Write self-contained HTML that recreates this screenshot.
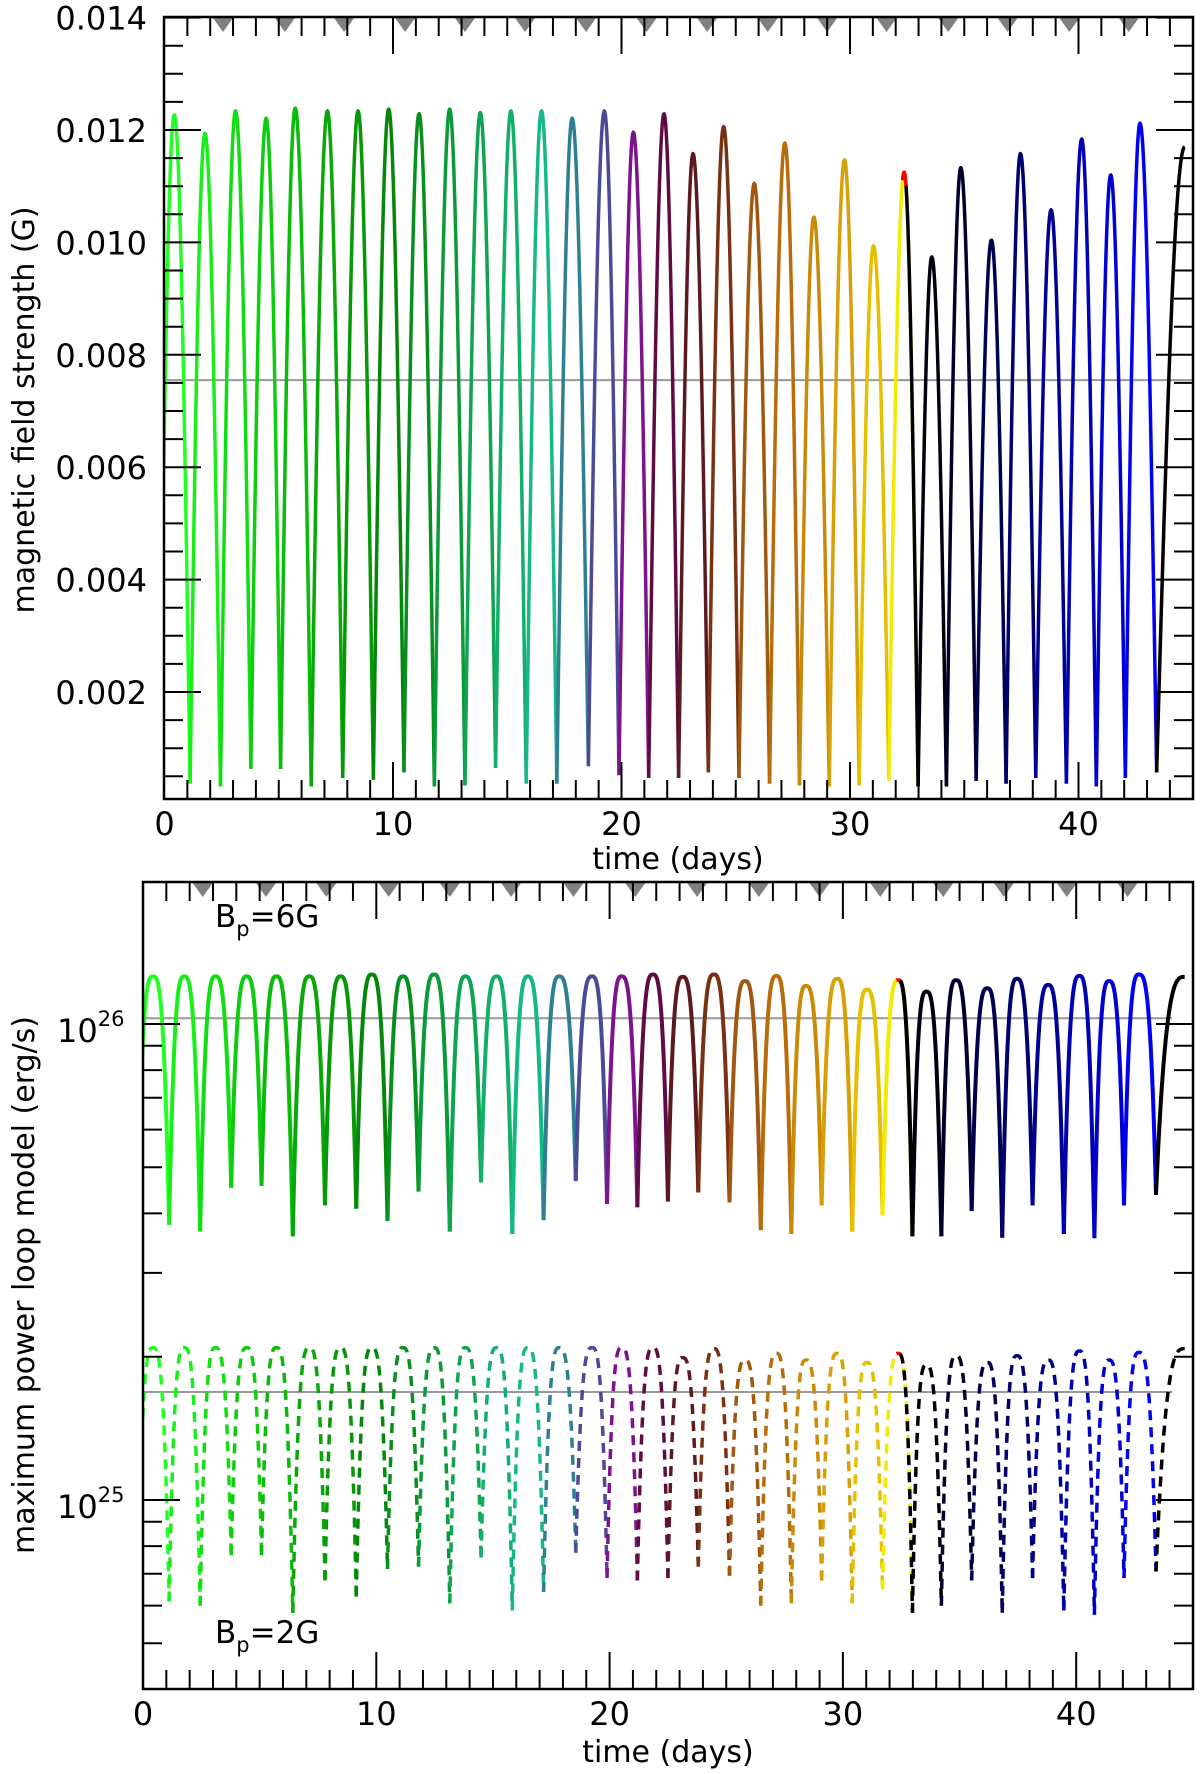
<!DOCTYPE html>
<html><head><meta charset="utf-8"><style>
html,body{margin:0;padding:0;background:#fff;}
svg{display:block;font-family:"DejaVu Sans","Liberation Sans",sans-serif;}
</style></head><body>
<svg id="chart" width="1200" height="1774" viewBox="0 0 1200 1774" xmlns="http://www.w3.org/2000/svg">
<defs>
<clipPath id="clipTop"><rect x="164" y="17" width="1029" height="782"/></clipPath>
<clipPath id="clipBot"><rect x="143" y="882" width="1050" height="807"/></clipPath>
</defs>
<g id="top"></g>
<g id="bot"></g>
<text x="34" y="410" font-size="30" text-anchor="middle" transform="rotate(-90 34 410)">magnetic field strength (G)</text>
<text x="678" y="869" font-size="30" text-anchor="middle">time (days)</text>
<text x="34" y="1285" font-size="30" text-anchor="middle" transform="rotate(-90 34 1285)">maximum power loop model (erg/s)</text>
<text x="668" y="1762" font-size="30" text-anchor="middle">time (days)</text>
<text x="215" y="927" font-size="31">B<tspan font-size="21" dy="9">p</tspan><tspan dy="-9">=6G</tspan></text>
<text x="215" y="1643" font-size="31">B<tspan font-size="21" dy="9">p</tspan><tspan dy="-9">=2G</tspan></text>
</svg>
<script>
// ---- data ----
const peakT = [0.43,1.77,3.11,4.45,5.72,7.13,8.47,9.81,11.14,12.48,13.82,15.16,16.5,17.84,19.25,20.52,21.86,23.13,24.47,25.81,27.15,28.42,29.76,31.03,32.37,33.58,34.85,36.19,37.46,38.8,40.14,41.41,42.69,44.65];
const peakB = [0.01227,0.01194,0.01234,0.01221,0.01239,0.01234,0.01234,0.01237,0.01229,0.01237,0.01231,0.01234,0.01234,0.01221,0.01234,0.01196,0.01229,0.01158,0.01206,0.01105,0.01177,0.01045,0.01147,0.00994,0.01125,0.00974,0.01133,0.01004,0.01158,0.01058,0.01184,0.01120,0.01212,0.0117];
const troughT = [-0.25,1.12,2.45,3.78,5.08,6.42,7.80,9.14,10.48,11.81,13.15,14.49,15.83,17.17,18.55,19.89,21.19,22.50,23.80,25.14,26.48,27.79,29.09,30.40,31.70,32.98,34.22,35.52,36.83,38.13,39.47,40.78,42.05,43.42];
const troughB = [0.0003,0.00037,0.00032,0.00063,0.00063,0.00032,0.00047,0.00044,0.00057,0.00032,0.00034,0.00065,0.00037,0.00037,0.00068,0.00052,0.00047,0.00047,0.00057,0.00047,0.00037,0.00034,0.00032,0.00034,0.00042,0.00032,0.00032,0.00042,0.00037,0.00047,0.00037,0.00032,0.00047,0.00057];
// log10 luminosity (erg/s), Bp = 6G
const peakL6 = [26.10,26.10,26.10,26.10,26.10,26.10,26.10,26.104,26.10,26.104,26.10,26.10,26.10,26.10,26.10,26.10,26.104,26.099,26.104,26.090,26.101,26.080,26.095,26.072,26.092,26.068,26.092,26.075,26.095,26.082,26.101,26.090,26.104,26.099];
const troughL6 = [25.58,25.578,25.564,25.656,25.660,25.554,25.619,25.612,25.586,25.648,25.564,25.667,25.559,25.588,25.670,25.622,25.615,25.627,25.646,25.625,25.567,25.559,25.619,25.564,25.598,25.554,25.554,25.607,25.551,25.619,25.559,25.550,25.619,25.641];
// log10 luminosity (erg/s), Bp = 2G
const peakL2 = [25.32,25.32,25.32,25.32,25.32,25.32,25.32,25.32,25.32,25.32,25.32,25.32,25.32,25.32,25.32,25.32,25.32,25.299,25.318,25.294,25.308,25.294,25.308,25.289,25.308,25.284,25.303,25.289,25.303,25.294,25.313,25.294,25.310,25.318];
const troughL2 = [24.78,24.787,24.778,24.884,24.884,24.763,24.831,24.797,24.855,24.860,24.783,24.879,24.768,24.807,24.889,24.836,24.831,24.836,24.860,24.841,24.778,24.783,24.831,24.783,24.812,24.763,24.778,24.831,24.763,24.836,24.768,24.759,24.836,24.850];
const segColors = ['#22ff22','#1aee1a','#12dd12','#0ecc0e','#0abb0a','#08a808','#069806','#05880a','#07901e','#0a9a38','#0ea450','#12ae6c','#16b888','#2f7f92','#4b4a96','#7d148e','#5e0c42','#5a1a20','#7a3012','#a05810','#b86c0a','#c88a08','#d8a008','#e6c000','#f2ea00','#000010','#00002c','#000050','#000070','#000092','#0000b4','#0000d2','#0000f2','#000000'];
const overlayStart = [32.30,32.45];
const overlayEnd = [32.45,32.98];
const overlayColor = ['#ff0000','#000000'];
const markerT = [2.56,5.27,7.86,10.53,13.15,15.78,18.45,21.1,23.75,26.4,29.0,31.6,34.3,36.9,39.6,42.2];
const refB = 0.00755, refL6 = 26.012, refL2 = 25.227;
const topYTicks = [0.002,0.004,0.006,0.008,0.010,0.012,0.014];
const xTickLabels = [0,10,20,30,40];

// ---- axes ----
const xT = t => 164.5 + t*22.85;
const yT = v => 692 - (v-0.002)*56200;
const xB = t => 143 + t*23.33;
const yB = l => 1024 - (l-26)*476;
const NS = 'http://www.w3.org/2000/svg';
function mk(tag, attrs, parent){const e=document.createElementNS(NS,tag);for(const k in attrs)e.setAttribute(k,attrs[k]);parent.appendChild(e);return e;}
const gTop=document.getElementById('top'), gBot=document.getElementById('bot');

function halfIdx(t){for(let i=0;i<peakT.length;i++){if(t<=peakT[i])return [i,'L'];if(i+1<troughT.length&&t<=troughT[i+1])return [i,'R'];}return [peakT.length-1,'L'];}
function val(t, pk, tr, shape){
  const [i,side]=halfIdx(t);
  let t0,t1,m;
  if(side==='L'){t0=troughT[i];t1=peakT[i];m=tr[i];}else{t0=troughT[i+1];t1=peakT[i];m=tr[i+1];}
  let u=(t-t0)/(t1-t0);u=Math.max(0,Math.min(1,u));
  const f = shape==='sin'?Math.sin(Math.PI*u/2):1-Math.pow(1-u,3);
  return m+(pk[i]-m)*f;
}
function seriesPath(ta,tb,pk,tr,shape,xf,yf){
  let d='';const n=60;
  for(let k=0;k<=n;k++){const t=ta+(tb-ta)*k/n;d+=(k?'L':'M')+xf(t).toFixed(2)+' '+yf(val(t,pk,tr,shape)).toFixed(2);}
  return d;
}
function drawSeries(parent,pk,tr,shape,xf,yf,width,dash,name,clip){
  const g=mk('g',{'clip-path':clip},parent);
  
  
  for(let i=0;i<peakT.length;i++){
    const ta=troughT[i], tb=(i+1<troughT.length)?troughT[i+1]:peakT[i];
    const p=mk('path',{d:seriesPath(ta,tb,pk,tr,shape,xf,yf),fill:'none',stroke:segColors[i],'stroke-width':width,'stroke-linejoin':'round'},g);
    if(dash)p.setAttribute('stroke-dasharray',dash);
    
    
  }
  for(let j=0;j<overlayStart.length;j++){
    const p=mk('path',{d:seriesPath(overlayStart[j],overlayEnd[j],pk,tr,shape,xf,yf),fill:'none',stroke:overlayColor[j],'stroke-width':width},g);
    if(dash)p.setAttribute('stroke-dasharray',dash);
    
    
  }
}
function frame(parent,x0,y0,x1,y1,xf,yTicksMajor,yTicksMinor){
  for(const t of markerT){
    const x=xf(t);
    const tri=mk('polygon',{points:`${x-10},${y0+1} ${x+10},${y0+1} ${x},${y0+15}`,fill:'#808080'},parent);
    
    
  }
  for(let d=1;d<45;d++){
    const x=xf(d), L=(d%10===0)?37:19;
    mk('line',{x1:x,y1:y1,x2:x,y2:y1-L,stroke:'#000','stroke-width':2},parent);
    mk('line',{x1:x,y1:y0,x2:x,y2:y0+L,stroke:'#000','stroke-width':2},parent);
  }
  for(const y of yTicksMajor){mk('line',{x1:x0,y1:y,x2:x0+37,y2:y,stroke:'#000','stroke-width':2},parent);mk('line',{x1:x1,y1:y,x2:x1-37,y2:y,stroke:'#000','stroke-width':2},parent);}
  for(const y of yTicksMinor){mk('line',{x1:x0,y1:y,x2:x0+19,y2:y,stroke:'#000','stroke-width':2},parent);mk('line',{x1:x1,y1:y,x2:x1-19,y2:y,stroke:'#000','stroke-width':2},parent);}
  const r=mk('rect',{x:x0,y:y0,width:x1-x0,height:y1-y0,fill:'none',stroke:'#000','stroke-width':2.5},parent);
  
  
  for(const v of xTickLabels){
    const t=mk('text',{x:xf(v),y:y1+36,'font-size':32,'text-anchor':'middle'},parent);t.textContent=v;
    
    
  }
}
{
  const maj=topYTicks.map(yT), mn=[];
  for(let v=0.0005;v<0.014;v+=0.0005){if(Math.abs(v/0.002-Math.round(v/0.002))>0.01)mn.push(yT(v));}
  const gl=mk('line',{x1:164,y1:yT(refB),x2:1193,y2:yT(refB),stroke:'#999','stroke-width':2},gTop);
  
  
  drawSeries(gTop,peakB,troughB,'sin',xT,yT,3.5,null,'field-strength-series','url(#clipTop)');
  frame(gTop,164,17,1193,799,xT,maj,mn);
  for(const v of topYTicks){
    const t=mk('text',{x:147,y:yT(v)+12,'font-size':32,'text-anchor':'end'},gTop);t.textContent=v.toFixed(3);
    
    
  }
}
{
  const maj=[yB(25),yB(26)], mn=[];
  for(const e of [24,25,26])for(let m=2;m<=9;m++){const y=yB(e+Math.log10(m));if(y>884&&y<1687)mn.push(y);}
  for(const l of [refL6,refL2]){
    const gl=mk('line',{x1:143,y1:yB(l),x2:1172,y2:yB(l),stroke:'#999','stroke-width':2},gBot);
    
    
  }
  drawSeries(gBot,peakL6,troughL6,'pow',xB,yB,4,null,'power-6g-series','url(#clipBot)');
  drawSeries(gBot,peakL2,troughL2,'pow',xB,yB,3.5,'10 7','power-2g-series','url(#clipBot)');
  frame(gBot,143,882,1193,1689,xB,maj,mn);
  for(const e of [25,26]){
    const t=mk('text',{x:57,y:yB(e)+18,'font-size':32},gBot);
    t.innerHTML='10<tspan font-size="21" dy="-16">'+e+'</tspan>';
    
    
  }
}
</script>
</body></html>
